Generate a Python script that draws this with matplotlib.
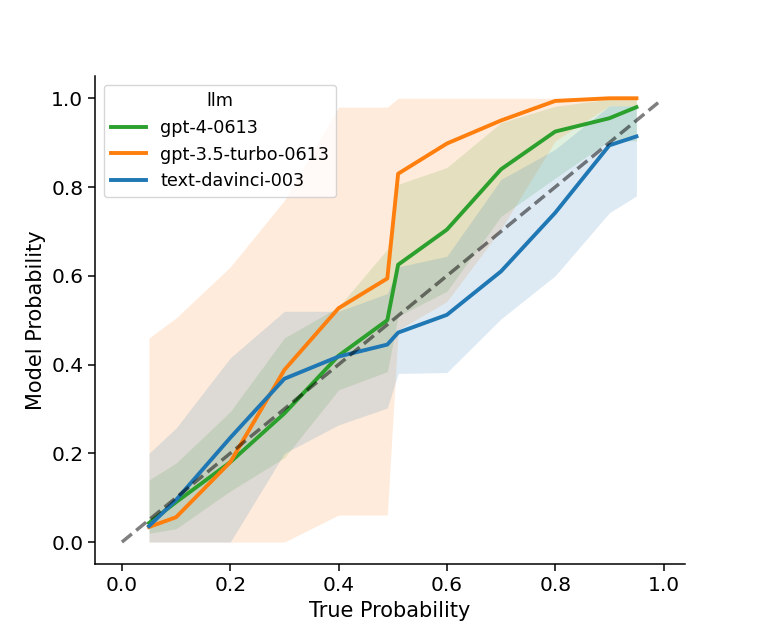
import matplotlib
matplotlib.use("Agg")
import matplotlib.pyplot as plt

# bins of true probability
bins = [0.05, 0.1, 0.2, 0.3, 0.4, 0.49, 0.51, 0.6, 0.7, 0.8, 0.9, 0.95]

models = ["gpt-4-0613", "gpt-3.5-turbo-0613", "text-davinci-003"]
colors = ["#2ca02c", "#ff7f0e", "#1f77b4"]

gpt4_mean = [0.043, 0.09, 0.18, 0.29, 0.42, 0.50, 0.625, 0.704, 0.84, 0.925, 0.955, 0.98]
gpt4_low = [0.02, 0.03, 0.115, 0.19, 0.343, 0.384, 0.509, 0.565, 0.734, 0.82, 0.904, 0.904]
gpt4_high = [0.14, 0.178, 0.294, 0.46, 0.53, 0.66, 0.806, 0.844, 0.945, 0.982, 0.998, 1.0]

gpt35_mean = [0.034, 0.056, 0.18, 0.388, 0.527, 0.594, 0.83, 0.898, 0.95, 0.994, 1.0, 1.0]
gpt35_low = [0.0, 0.0, 0.0, 0.0, 0.061, 0.061, 0.478, 0.542, 0.705, 0.904, 0.983, 0.983]
gpt35_high = [0.46, 0.505, 0.62, 0.77, 0.98, 0.98, 1.0, 1.0, 1.0, 1.0, 1.0, 1.0]

davinci_mean = [0.036, 0.095, 0.235, 0.368, 0.418, 0.445, 0.472, 0.512, 0.61, 0.742, 0.894, 0.914]
davinci_low = [0.0, 0.0, 0.0, 0.20, 0.264, 0.302, 0.38, 0.382, 0.503, 0.60, 0.742, 0.78]
davinci_high = [0.20, 0.257, 0.415, 0.52, 0.52, 0.56, 0.62, 0.644, 0.817, 0.885, 0.983, 0.983]

means = [gpt4_mean, gpt35_mean, davinci_mean]
lows = [gpt4_low, gpt35_low, davinci_low]
highs = [gpt4_high, gpt35_high, davinci_high]

diag = [0.0, 0.99]

plt.rcParams['font.family'] = ['DejaVu Sans']

fig = plt.figure(figsize=(7.61, 6.34), dpi=100)
ax = fig.add_subplot(111)

for name, c, m, lo, hi in zip(models, colors, means, lows, highs):
    ax.fill_between(bins, lo, hi, color=c, alpha=0.15, linewidth=0)
for name, c, m in zip(models, colors, means):
    ax.plot(bins, m, color=c, linewidth=2.8, label=name)

ax.plot(diag, diag, 'k--', alpha=0.5, linewidth=2.5)

ax.set_xticks([0.0, 0.2, 0.4, 0.6, 0.8, 1.0])
ax.set_yticks([0.0, 0.2, 0.4, 0.6, 0.8, 1.0])
ax.tick_params(labelsize=14.5, width=1.1, length=5)
ax.set_xlabel("True Probability", fontsize=15)
ax.set_ylabel("Model Probability", fontsize=15)
ax.spines['top'].set_visible(False)
ax.spines['right'].set_visible(False)
for s in ('left', 'bottom'):
    ax.spines[s].set_linewidth(1.1)

leg = ax.legend(title="llm", loc="upper left", fontsize=12.7, title_fontsize=12.7)

fig.savefig("out.png", dpi=100)
